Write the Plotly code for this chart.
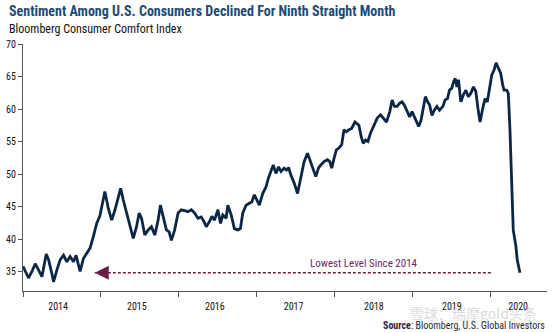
import plotly.graph_objects as go

# Weekly Bloomberg Consumer Comfort Index, x in decimal years
years = [2014.00, 2014.03, 2014.07, 2014.115, 2014.157, 2014.20, 2014.243, 2014.298, 2014.328, 2014.37,
         2014.392, 2014.434, 2014.476, 2014.52, 2014.562, 2014.604, 2014.647, 2014.681, 2014.732, 2014.775,
         2014.817, 2014.86, 2014.903, 2014.945, 2014.987, 2015.02, 2015.05, 2015.094, 2015.137, 2015.18,
         2015.222, 2015.252, 2015.286, 2015.328, 2015.37, 2015.414, 2015.456, 2015.49, 2015.52, 2015.562,
         2015.605, 2015.647, 2015.69, 2015.733, 2015.762, 2015.797, 2015.839, 2015.874, 2015.903, 2015.945,
         2015.989, 2016.031, 2016.073, 2016.116, 2016.158, 2016.20, 2016.244, 2016.286, 2016.32, 2016.35,
         2016.392, 2016.423, 2016.456, 2016.50, 2016.533, 2016.563, 2016.605, 2016.627, 2016.67, 2016.711,
         2016.755, 2016.788, 2016.819, 2016.861, 2016.903, 2016.934, 2016.967, 2017.001, 2017.031, 2017.074,
         2017.116, 2017.148, 2017.18, 2017.209, 2017.244, 2017.278, 2017.308, 2017.35, 2017.38, 2017.406,
         2017.436, 2017.478, 2017.521, 2017.563, 2017.605, 2017.649, 2017.691, 2017.72, 2017.755, 2017.789,
         2017.819, 2017.861, 2017.904, 2017.934, 2017.959, 2017.989, 2018.019, 2018.052, 2018.087, 2018.116,
         2018.147, 2018.18, 2018.215, 2018.257, 2018.308, 2018.338, 2018.364, 2018.393, 2018.423, 2018.457,
         2018.50, 2018.543, 2018.585, 2018.619, 2018.662, 2018.704, 2018.734, 2018.764, 2018.798, 2018.831,
         2018.862, 2018.891, 2018.926, 2018.959, 2018.99, 2019.032, 2019.074, 2019.105, 2019.13, 2019.16,
         2019.189, 2019.215, 2019.245, 2019.275, 2019.309, 2019.342, 2019.385, 2019.414, 2019.444, 2019.47,
         2019.50, 2019.521, 2019.543, 2019.564, 2019.585, 2019.615, 2019.648, 2019.679, 2019.712, 2019.743,
         2019.777, 2019.807, 2019.84, 2019.862, 2019.896, 2019.926, 2019.955, 2019.981, 2020.011, 2020.041,
         2020.067, 2020.096, 2020.126, 2020.152, 2020.169, 2020.203, 2020.224, 2020.245, 2020.267, 2020.287,
         2020.322, 2020.338, 2020.373]
comfort = [35.8, 35.0, 34.0, 35.0, 36.2, 35.2, 34.2, 37.7, 36.8, 34.7,
           33.4, 35.2, 36.8, 37.5, 36.5, 37.3, 36.5, 37.5, 35.0, 37.0,
           37.8, 38.6, 40.4, 42.4, 43.6, 45.5, 47.3, 44.7, 42.9, 44.5,
           46.5, 47.8, 46.0, 44.0, 41.9, 40.1, 41.9, 44.0, 43.2, 40.6,
           41.4, 41.9, 40.6, 42.9, 45.2, 43.4, 41.4, 41.1, 39.8, 41.4,
           44.0, 44.5, 44.4, 44.2, 44.5, 44.0, 43.2, 43.4, 42.7, 41.9,
           42.7, 43.5, 42.9, 44.5, 42.4, 43.7, 43.2, 45.2, 43.7, 41.6,
           41.4, 41.6, 44.0, 45.2, 45.5, 45.7, 46.8, 46.0, 45.2, 47.0,
           48.0, 49.4, 50.6, 51.4, 50.1, 51.1, 50.4, 50.9, 50.6, 51.0,
           49.8, 48.6, 47.0, 49.6, 51.9, 53.2, 51.9, 50.9, 49.6, 50.9,
           51.4, 51.9, 52.2, 51.9, 50.9, 52.4, 53.7, 54.0, 54.5, 56.8,
           56.5, 56.8, 57.0, 58.0, 57.5, 55.7, 54.7, 55.2, 55.0, 56.3,
           57.5, 58.6, 59.1, 58.6, 58.0, 59.6, 61.4, 60.4, 60.4, 60.9,
           61.1, 60.6, 59.6, 58.8, 59.6, 58.3, 57.3, 58.3, 59.8, 61.9,
           61.1, 60.6, 59.0, 59.8, 60.4, 59.8, 60.4, 61.4, 61.6, 62.9,
           63.2, 64.2, 64.7, 63.4, 64.5, 61.1, 62.2, 62.9, 61.9, 62.4,
           63.4, 62.7, 59.6, 58.0, 60.1, 61.6, 61.1, 63.4, 65.2, 66.0,
           67.1, 66.3, 65.5, 63.7, 62.9, 62.9, 62.4, 56.8, 49.1, 41.4,
           38.8, 36.8, 34.8]

year_labels = ["2014", "2015", "2016", "2017", "2018", "2019", "2020"]
year_label_pos = [2014.45, 2015.46, 2016.46, 2017.47, 2018.5, 2019.5, 2020.35]
year_starts = [2014, 2015, 2016, 2017, 2018, 2019, 2020]
y_ticks = [35, 40, 45, 50, 55, 60, 65, 70]

arrow_start = 2020.0   # right end of dashed line
arrow_end = 2014.92    # arrow tip
lowest = comfort[-1]

NARROW = "Liberation Sans Narrow, Roboto Condensed, DejaVu Sans Condensed, sans-serif"
NAVY = "#0c2746"
MAROON = "#6b1d45"

fig = go.Figure()
fig.add_trace(go.Scatter(x=years, y=comfort, mode="lines",
                         line=dict(color=NAVY, width=2.8), hoverinfo="skip"))
fig.add_trace(go.Scatter(x=[arrow_start, arrow_end], y=[lowest, lowest], mode="lines",
                         line=dict(color=MAROON, width=1.6, dash="3px,2px"), hoverinfo="skip"))
fig.add_trace(go.Scatter(x=[arrow_end], y=[lowest], mode="markers",
                         marker=dict(symbol="arrow-left", size=14, color=MAROON), hoverinfo="skip"))

fig.update_layout(
    width=553, height=333,
    margin=dict(l=21, r=6, t=44, b=42),
    paper_bgcolor="white", plot_bgcolor="white",
    showlegend=False,
    xaxis=dict(range=[2014, 2020.72], showgrid=False, zeroline=False,
               showline=True, linecolor="#555", linewidth=1.2,
               tickmode="array", tickvals=year_label_pos, ticktext=year_labels,
               ticks="outside", ticklen=6, tickcolor="rgba(0,0,0,0)",
               tickfont=dict(family=NARROW, size=10, color="#111")),
    yaxis=dict(range=[32, 70], showgrid=False, zeroline=False,
               showline=True, linecolor="#555", linewidth=1.2,
               tickmode="array", tickvals=y_ticks, ticks="outside", ticklen=4,
               tickcolor="#555", tickfont=dict(family=NARROW, size=10, color="#111")),
    annotations=[
        dict(text="<b>Sentiment Among U.S. Consumers Declined For Ninth Straight Month</b>",
             xref="paper", yref="paper", x=-0.0304, y=1.1336, xanchor="left", yanchor="middle",
             showarrow=False, font=dict(family=NARROW, size=14, color="#1d4a72")),
        dict(text="Bloomberg Consumer Comfort Index",
             xref="paper", yref="paper", x=-0.0304, y=1.0607, xanchor="left", yanchor="middle",
             showarrow=False, font=dict(family=NARROW, size=12, color="#111")),
        dict(text="Lowest Level Since 2014", x=2018.37, y=36.3, xref="x", yref="y",
             showarrow=False, xanchor="center", yanchor="middle",
             font=dict(family=NARROW, size=11, color="#6e2a5c")),
        dict(text="雪球：瑞摩gold头条", xref="paper", yref="paper", x=0.86, y=-0.09,
             xanchor="center", yanchor="middle", showarrow=False,
             font=dict(family="Noto Sans CJK SC", size=14, color="rgba(180,180,180,0.5)")),
        dict(text="<b>Source</b>: Bloomberg, U.S. Global Investors",
             xref="paper", yref="paper", x=1.0, y=-0.1377, xanchor="right", yanchor="middle",
             showarrow=False, font=dict(family=NARROW, size=10, color="#1a2a3a")),
    ],
)
# year-start tick marks as minor ticks
fig.update_xaxes(minor=dict(tickmode="array", tickvals=year_starts, ticks="outside",
                            ticklen=5, tickcolor="#555", tickwidth=1.2))

fig.write_html("out.html")
